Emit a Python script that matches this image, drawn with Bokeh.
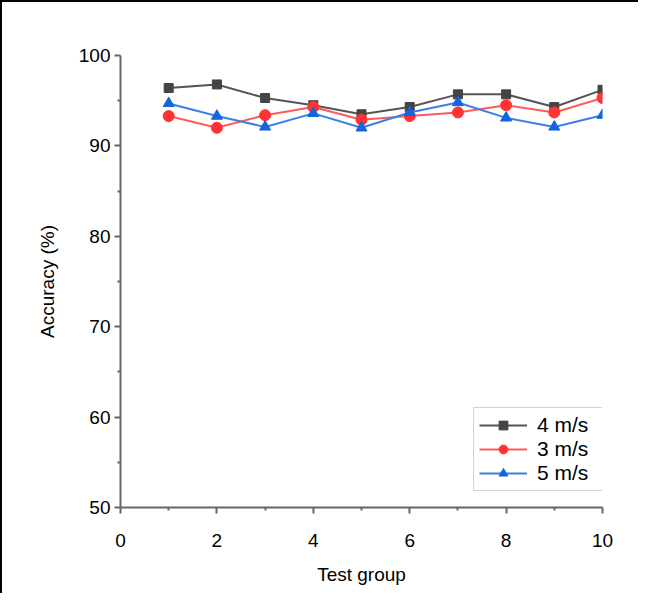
from bokeh.plotting import figure
from bokeh.models import Range1d, Legend, LegendItem, FixedTicker
from bokeh.embed import file_html
from bokeh.resources import INLINE

groups = [1, 2, 3, 4, 5, 6, 7, 8, 9, 10]
acc_4 = [96.4, 96.8, 95.3, 94.5, 93.5, 94.3, 95.7, 95.7, 94.3, 96.2]
acc_3 = [93.3, 92.0, 93.4, 94.3, 92.9, 93.3, 93.7, 94.5, 93.7, 95.3]
acc_5 = [94.7, 93.3, 92.1, 93.6, 92.0, 93.7, 94.8, 93.1, 92.1, 93.4]
x_ticks = [0, 2, 4, 6, 8, 10]
x_minor = [1, 3, 5, 7, 9]
y_ticks = [50, 60, 70, 80, 90, 100]
y_minor = [55, 65, 75, 85, 95]

FONT = "Liberation Sans"

p = figure(width=638, height=593, output_backend="svg", toolbar_location=None,
           x_range=Range1d(0, 10), y_range=Range1d(50, 100),
           min_border_left=120, min_border_right=36, min_border_top=55, min_border_bottom=86)
p.border_fill_color = None
p.background_fill_color = "white"
p.styles = {"background": "linear-gradient(black, black) left top / 100% 2px no-repeat, "
                          "linear-gradient(black, black) left top / 2px 100% no-repeat, white"}
p.outline_line_color = None
p.xgrid.visible = False
p.ygrid.visible = False

p.xaxis.ticker = FixedTicker(ticks=x_ticks, minor_ticks=x_minor)
p.yaxis.ticker = FixedTicker(ticks=y_ticks, minor_ticks=y_minor)

for ax in (p.xaxis, p.yaxis):
    ax.axis_line_color = "#666666"
    ax.axis_line_width = 2
    ax.major_tick_line_color = "#666666"
    ax.major_tick_line_width = 2
    ax.minor_tick_line_color = "#666666"
    ax.minor_tick_line_width = 2
    ax.major_tick_in = 0
    ax.major_tick_out = 6
    ax.minor_tick_in = 0
    ax.minor_tick_out = 3
    ax.major_label_text_font = FONT
    ax.major_label_text_font_size = "19px"
    ax.major_label_text_color = "black"
    ax.axis_label_text_font = FONT
    ax.axis_label_text_font_size = "19px"
    ax.axis_label_text_font_style = "normal"
    ax.axis_label_text_color = "black"

p.xaxis.axis_label = "Test group"
p.yaxis.axis_label = "Accuracy (%)"
p.xaxis.major_label_standoff = 20
p.yaxis.major_label_standoff = 4
p.xaxis.axis_label_standoff = 14
p.yaxis.axis_label_standoff = 18

l4 = p.line(groups, acc_4, line_color="#555555", line_width=2)
s4 = p.scatter(groups, acc_4, marker="square", size=9, fill_color="#444444", line_color="#444444")
l3 = p.line(groups, acc_3, line_color="#ff5a5a", line_width=2)
s3 = p.scatter(groups, acc_3, marker="circle", size=11, fill_color="#ff3333", line_color="#ff3333")
l5 = p.line(groups, acc_5, line_color="#3a80e8", line_width=2)
s5 = p.scatter(groups, acc_5, marker="triangle", size=11, fill_color="#1464dc", line_color="#1464dc")

legend = Legend(items=[LegendItem(label="4 m/s", renderers=[l4, s4]),
                       LegendItem(label="3 m/s", renderers=[l3, s3]),
                       LegendItem(label="5 m/s", renderers=[l5, s5])],
                location=(353, 16))
legend.label_text_font = FONT
legend.label_text_font_size = "21px"
legend.label_text_color = "black"
legend.glyph_width = 48
legend.glyph_height = 22
legend.label_height = 22
legend.label_width = 62
legend.label_standoff = 10
legend.spacing = 0
legend.padding = 5
legend.margin = 0
legend.border_line_color = "#aaaaaa"
legend.border_line_width = 1.5
legend.background_fill_color = "white"
legend.background_fill_alpha = 1
p.add_layout(legend)

open("out.html", "w").write(file_html(p, INLINE))
